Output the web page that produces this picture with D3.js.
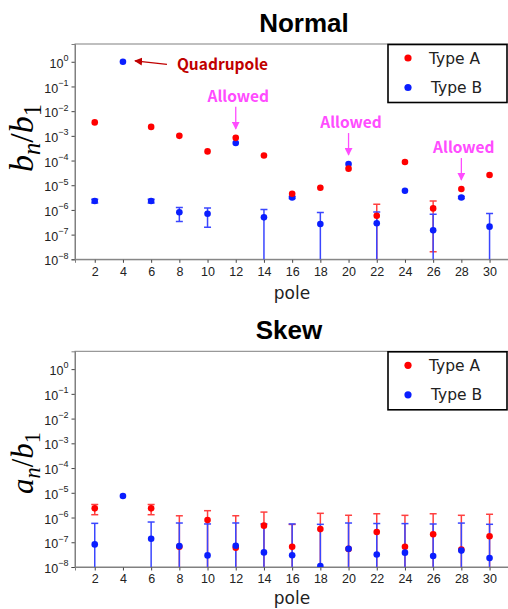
<!DOCTYPE html>
<html>
<head>
<meta charset="utf-8">
<script src="https://cdn.jsdelivr.net/npm/d3@7"></script>
<style>
  html, body { margin: 0; padding: 0; background: #fff; }
  svg { display: block; }
</style>
</head>
<body>
<svg id="chart"></svg>
<script>
var width = 508;
var height = 609;

// pole numbers on the x axis
var poles = [2, 4, 6, 8, 10, 12, 14, 16, 18, 20, 22, 24, 26, 28, 30];
var seriesNames = ['Type A', 'Type B'];
var yTicks = [1e0, 1e-1, 1e-2, 1e-3, 1e-4, 1e-5, 1e-6, 1e-7, 1e-8];

// normal components b_n / b_1
var normalA    = [3.5e-3, null, 2.3e-3, 1.0e-3, 2.35e-4, 8.3e-4, 1.6e-4, 4.5e-6, 7.9e-6, 4.7e-5, 5.8e-7, 8.7e-5, 1.15e-6, 7.0e-6, 2.6e-5];
var normalAErr = [0, 0, 0, 0, 0, 0, 0, 0, 0, 0, 1.1e-6, 0, 1.13e-6, 0, 0];
var normalB    = [2.3e-6, 1.0, 2.3e-6, 8.0e-7, 7.0e-7, 5.1e-4, 5.0e-7, 3.2e-6, 2.7e-7, 7.2e-5, 2.9e-7, 6.0e-6, 1.5e-7, 3.2e-6, 2.1e-7];
var normalBErr = [4e-7, 0, 4e-7, 4.6e-7, 5.0e-7, 0, 5.5e-7, 3e-7, 5.2e-7, 0, 5.4e-7, 0, 5.1e-7, 3e-7, 5.1e-7];

// skew components a_n / b_1
var skewA    = [2.35e-6, null, 2.35e-6, 6.6e-8, 7.9e-7, 6.0e-8, 4.7e-7, 6.6e-8, 3.4e-7, 5.4e-8, 2.6e-7, 6.6e-8, 2.1e-7, 5.1e-8, 1.74e-7];
var skewAErr = [1.05e-6, 0, 1.05e-6, 1.11e-6, 1.1e-6, 1.12e-6, 1.19e-6, 4.6e-7, 1.14e-6, 1.18e-6, 1.16e-6, 1.16e-6, 1.21e-6, 1.18e-6, 1.18e-6];
var skewB    = [8.2e-8, 7.4e-6, 1.38e-7, 7.0e-8, 2.95e-8, 7.2e-8, 3.9e-8, 3.0e-8, 1.1e-8, 5.5e-8, 3.2e-8, 3.8e-8, 2.8e-8, 4.6e-8, 2.3e-8];
var skewBErr = [5.0e-7, 0, 5.2e-7, 5.3e-7, 5.2e-7, 5.3e-7, 5.1e-7, 5.2e-7, 5.2e-7, 5.45e-7, 5.4e-7, 5.3e-7, 5.2e-7, 5.5e-7, 5.1e-7];

// annotations on the normal panel
var allowedPoles = [12, 20, 28];
var allowedLabel = 'Allowed';
var quadLabel = 'Quadrupole';

var colA = '#ff0000';
var colB = '#0a1eff';
var barA = '#ff4040';
var barB = '#3a46ff';

var svg = d3.select('#chart')
  .attr('width', width)
  .attr('height', height)
  .attr('font-family', 'DejaVu Sans, sans-serif');

var defs = svg.append('defs');

function rows (vals, errs) {
    var out = [];
    for (var i = 0; i < poles.length; i++) {
        if (vals[i] === null) continue;
        out.push({pole: poles[i], v: vals[i], e: errs[i]});
    }
    return out;
}

function drawPanel (opt) {
    var x = d3.scaleLinear().domain([0.6, 31.4]).range([75, 509.3]);
    var y = d3.scaleLog().domain([1e-8, Math.pow(10, 0.72)]).range([opt.bottom, opt.top]);

    var g = svg.append('g');

    // title
    g.append('text')
      .attr('x', opt.titleX)
      .attr('y', opt.top - 12)
      .attr('text-anchor', 'middle')
      .attr('font-family', 'Liberation Sans, Arial, sans-serif')
      .attr('font-weight', 'bold')
      .attr('font-size', 26)
      .attr('fill', '#000')
      .text(opt.title);

    var clipId = 'clip-' + opt.name;
    defs.append('clipPath').attr('id', clipId)
      .append('rect')
      .attr('x', 75).attr('y', opt.top)
      .attr('width', 509.3 - 75).attr('height', opt.bottom - opt.top);

    // x axis
    var xAxis = g.append('g')
      .attr('transform', 'translate(0,' + opt.bottom + ')')
      .call(d3.axisBottom(x).tickValues(poles).tickSizeOuter(0).tickSize(3.5).tickPadding(4));
    xAxis.selectAll('text').attr('font-size', 12.5).attr('fill', '#222');

    // y axis
    var yAxis = g.append('g')
      .attr('transform', 'translate(75,0)')
      .call(d3.axisLeft(y).tickValues(yTicks).tickSizeOuter(0).tickSize(3.5).tickPadding(3).tickFormat(function () { return ''; }));
    yAxis.selectAll('.tick text').each(function (d) {
        var t = d3.select(this);
        var p = Math.round(Math.log10(d));
        t.attr('font-size', 12.5).attr('fill', '#222').attr('dy', '0.45em');
        t.append('tspan').text('10');
        t.append('tspan')
          .attr('font-size', 9)
          .attr('dy', '-0.75em')
          .text(p === 0 ? '0' : '\u2212' + Math.abs(p));
    });
    g.selectAll('.domain').attr('stroke', '#808080');
    g.selectAll('.tick line').attr('stroke', '#444');

    // frame
    g.append('rect')
      .attr('x', 75).attr('y', opt.top)
      .attr('width', 509.3 - 75).attr('height', opt.bottom - opt.top)
      .attr('fill', 'none').attr('stroke', '#808080').attr('stroke-width', 1);

    // axis labels
    g.append('text')
      .attr('x', 292)
      .attr('y', Math.min(opt.bottom + 40, height - 5))
      .attr('text-anchor', 'middle')
      .attr('font-size', 17)
      .attr('fill', '#222')
      .text('pole');

    var yl = g.append('text')
      .attr('transform', 'translate(' + opt.ylabX + ',' + opt.ylabY + ') rotate(-90)')
      .attr('text-anchor', 'middle')
      .attr('font-family', 'Liberation Serif, DejaVu Serif, serif')
      .attr('font-size', opt.ylabSize)
      .attr('fill', '#000');
    yl.append('tspan').attr('font-style', 'italic').text(opt.ylab);
    yl.append('tspan').attr('font-style', 'italic').attr('font-size', opt.ylabSize * 0.72).attr('dy', '0.3em').text('n');
    yl.append('tspan').attr('dy', '-0.21em').text('/');
    yl.append('tspan').attr('font-style', 'italic').text('b');
    yl.append('tspan').attr('font-size', opt.ylabSize * 0.72).attr('dy', '0.3em').text('1');

    var plot = g.append('g').attr('clip-path', 'url(#' + clipId + ')');

    function errbars (data, color) {
        var eg = plot.append('g')
          .attr('stroke', color)
          .attr('stroke-width', 1.5);
        data.filter(function (d) { return d.e > 0; }).forEach(function (d) {
            var lo = d.v - d.e > 0 ? d.v - d.e : 1e-14;
            var hi = d.v + d.e;
            var px = x(d.pole);
            eg.append('line').attr('x1', px).attr('x2', px).attr('y1', y(lo)).attr('y2', y(hi));
            eg.append('line').attr('x1', px - 3.5).attr('x2', px + 3.5).attr('y1', y(hi)).attr('y2', y(hi));
            eg.append('line').attr('x1', px - 3.5).attr('x2', px + 3.5).attr('y1', y(lo)).attr('y2', y(lo));
        });
    }

    function dots (data, color) {
        plot.append('g').selectAll('circle')
          .data(data).enter().append('circle')
          .attr('cx', function (d) { return x(d.pole); })
          .attr('cy', function (d) { return y(d.v); })
          .attr('r', 3.3)
          .attr('fill', color);
    }

    var a = rows(opt.a, opt.aErr);
    var b = rows(opt.b, opt.bErr);
    errbars(a, barA);
    errbars(b, barB);
    if (opt.redOnTop) {
        dots(b, colB);
        dots(a, colA);
    } else {
        dots(a, colA);
        dots(b, colB);
    }

    // legend
    var lg = g.append('g').attr('transform', 'translate(388,' + (opt.top + 0.5) + ')');
    lg.append('rect')
      .attr('width', 119).attr('height', 58)
      .attr('fill', '#fff').attr('stroke', '#000').attr('stroke-width', 1.6);
    seriesNames.forEach(function (s, i) {
        lg.append('circle')
          .attr('cx', 20).attr('cy', 13.5 + i * 29.5)
          .attr('r', 3.6)
          .attr('fill', i === 0 ? colA : colB);
        lg.append('text')
          .attr('x', 41 + i * 2).attr('y', 13.5 + i * 29.5)
          .attr('dy', '0.36em')
          .attr('font-size', 15.5)
          .attr('fill', '#222')
          .text(s);
    });

    return {x: x, y: y, g: g};
}

var normalPanel = drawPanel({
    name: 'normal', title: 'Normal', titleX: 304,
    top: 44, bottom: 259.3,
    a: normalA, aErr: normalAErr, b: normalB, bErr: normalBErr,
    redOnTop: true,
    ylab: 'b', ylabX: 33, ylabY: 138, ylabSize: 34
});

drawPanel({
    name: 'skew', title: 'Skew', titleX: 289,
    top: 351.3, bottom: 567,
    a: skewA, aErr: skewAErr, b: skewB, bErr: skewBErr,
    redOnTop: false,
    ylab: 'a', ylabX: 33, ylabY: 463, ylabSize: 31
});

// annotations on the normal panel
function marker (id, color) {
    defs.append('marker')
      .attr('id', id)
      .attr('viewBox', '0 0 10 10')
      .attr('refX', 9).attr('refY', 5)
      .attr('markerWidth', 8).attr('markerHeight', 8)
      .attr('markerUnits', 'userSpaceOnUse')
      .attr('orient', 'auto')
      .append('path')
      .attr('d', 'M0,0 L10,5 L0,10 Z')
      .attr('fill', color);
}
marker('head-red', '#c00000');
marker('head-mag', '#ff4cff');

var ann = normalPanel.g.append('g').attr('font-family', 'Noto Sans CJK JP, sans-serif').attr('font-weight', 'bold');

var qx = normalPanel.x(4), qy = normalPanel.y(1);
ann.append('line')
  .attr('x1', qx + 44).attr('y1', qy + 2.5)
  .attr('x2', qx + 12).attr('y2', qy - 1)
  .attr('stroke', '#c00000').attr('stroke-width', 1.3)
  .attr('marker-end', 'url(#head-red)');
ann.append('text')
  .attr('x', qx + 54).attr('y', qy + 8)
  .attr('font-size', 15.5)
  .attr('fill', '#c00000')
  .text(quadLabel);

allowedPoles.forEach(function (p) {
    var i = poles.indexOf(p);
    var v = Math.max(normalA[i], normalB[i]);
    var px = normalPanel.x(p);
    var py = normalPanel.y(v) - 9;
    ann.append('line')
      .attr('x1', px).attr('y1', py - 22)
      .attr('x2', px).attr('y2', py)
      .attr('stroke', '#ff4cff').attr('stroke-width', 1.3)
      .attr('marker-end', 'url(#head-mag)');
    ann.append('text')
      .attr('x', px + 2.5).attr('y', py - 27)
      .attr('text-anchor', 'middle')
      .attr('font-size', 15.5)
      .attr('fill', '#ff4cff')
      .text(allowedLabel);
});
</script>
</body>
</html>
